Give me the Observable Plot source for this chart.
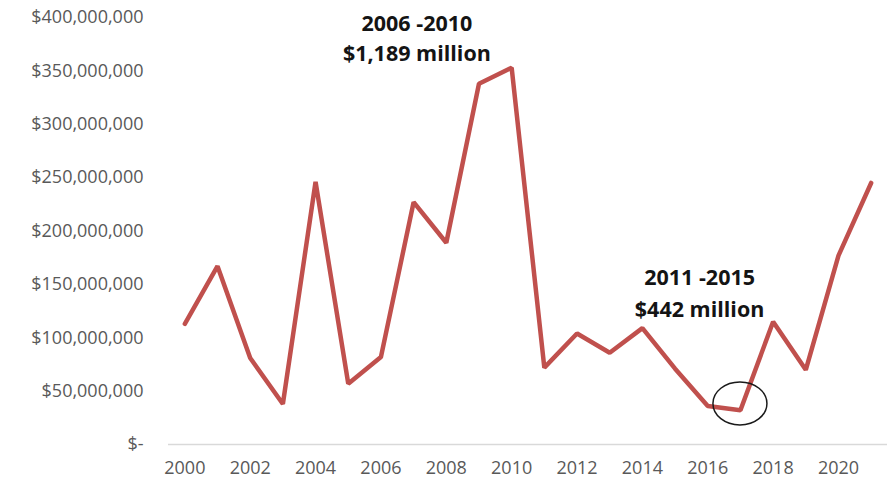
<!DOCTYPE html>
<html>
<head>
<meta charset="utf-8">
<script src="https://cdn.jsdelivr.net/npm/d3@7"></script>
<script src="https://cdn.jsdelivr.net/npm/@observablehq/plot@0.6"></script>
<style>
  html, body { margin: 0; padding: 0; background: #fff; }
  #chart svg { display: block; }
</style>
</head>
<body>
<div id="chart"></div>
<script>
// Data (values in US dollars)
const years = [2000, 2001, 2002, 2003, 2004, 2005, 2006, 2007, 2008, 2009, 2010,
               2011, 2012, 2013, 2014, 2015, 2016, 2017, 2018, 2019, 2020, 2021];
const valuesMillions = [113, 167, 81, 38, 246, 57, 82, 227, 189, 338, 353,
                        72, 104, 86, 109, 71, 36, 32, 115, 70, 177, 245];
const xTicks = [2000, 2002, 2004, 2006, 2008, 2010, 2012, 2014, 2016, 2018, 2020];
const yTicks = [0, 50e6, 100e6, 150e6, 200e6, 250e6, 300e6, 350e6, 400e6];
const annotationText = ["2006 -2010", "$1,189 million", "2011 -2015", "$442 million"];
const annotationYear = [2007.1, 2007.1, 2015.75, 2015.75];
const annotationValue = [394e6, 366e6, 156e6, 126e6];
const circledYear = 2017;
const circledValue = 38e6;

const data = years.map((y, i) => ({year: y, value: valuesMillions[i] * 1e6}));
const annotations = annotationText.map((t, i) => ({text: t, year: annotationYear[i], value: annotationValue[i]}));

const fmt = d3.format(",");
const plot = Plot.plot({
  width: 889,
  height: 482,
  marginLeft: 168,
  marginRight: 2,
  marginTop: 17,
  marginBottom: 38,
  style: {fontFamily: "'Open Sans', sans-serif", fontSize: "18px", color: "#595959", background: "#fff"},
  x: {domain: [1999.5, 2021.5], ticks: xTicks, tickFormat: d => String(d), label: null},
  y: {domain: [0, 400e6], ticks: yTicks, label: null},
  marks: [
    Plot.axisX({ticks: xTicks, tickFormat: d => String(d), tickSize: 0, tickPadding: 17, label: null}),
    Plot.axisY({ticks: yTicks, tickFormat: d => d === 0 ? "$-" : "$" + fmt(d), tickSize: 0, tickPadding: 25, label: null}),
    Plot.ruleY([0], {stroke: "#d9d9d9", strokeWidth: 1.5}),
    Plot.line(data, {x: "year", y: "value", stroke: "#c0504d", strokeWidth: 4.5, strokeLinejoin: "miter", strokeLinecap: "round"}),
    Plot.text(annotations, {x: "year", y: "value", text: "text", fill: "#141414", fontWeight: "bold", fontSize: 21.5, textAnchor: "middle"})
  ]
});

// Highlight ellipse around the 2017 low point
const sx = plot.scale("x"), sy = plot.scale("y");
d3.select(plot).append("ellipse")
  .attr("cx", sx.apply(circledYear))
  .attr("cy", sy.apply(circledValue))
  .attr("rx", 27)
  .attr("ry", 21.5)
  .attr("fill", "none")
  .attr("stroke", "#1a1a1a")
  .attr("stroke-width", 1.5);

document.getElementById("chart").appendChild(plot);
</script>
</body>
</html>
